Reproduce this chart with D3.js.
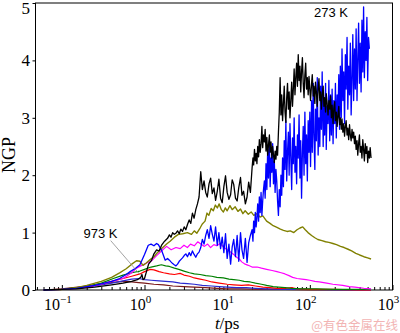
<!DOCTYPE html>
<html>
<head>
<meta charset="utf-8">
<script src="https://cdn.jsdelivr.net/npm/d3@7"></script>
<style>
html, body { margin: 0; padding: 0; background: #fff; }
svg { display: block; }
</style>
</head>
<body>
<svg id="chart" width="400" height="333"></svg>
<script>
// Non-Gaussian parameter NGP(t) for several temperatures, t in ps (log axis).

// Time grid (ps) for the two noisy series: coarse up to 20 ps, finer after
const tDense = [2.00, 2.09, 2.19, 2.29, 2.40, 2.51, 2.63, 2.75, 2.88, 3.02,
  3.16, 3.31, 3.47, 3.63, 3.80, 3.98, 4.17, 4.37, 4.57, 4.79,
  5.01, 5.25, 5.50, 5.75, 6.03, 6.31, 6.61, 6.92, 7.24, 7.59,
  7.94, 8.32, 8.71, 9.12, 9.55, 10.0, 10.5, 11.0, 11.5, 12.0,
  12.6, 13.2, 13.8, 14.5, 15.1, 15.8, 16.6, 17.4, 18.2, 19.1,
  20.0, 20.5, 20.9, 21.4, 21.9, 22.4, 22.9, 23.4, 24.0, 24.5,
  25.1, 25.7, 26.3, 26.9, 27.5, 28.2, 28.8, 29.5, 30.2, 30.9,
  31.6, 32.4, 33.1, 33.9, 34.7, 35.5, 36.3, 37.2, 38.0, 38.9,
  39.8, 40.7, 41.7, 42.7, 43.7, 44.7, 45.7, 46.8, 47.9, 49.0,
  50.1, 51.3, 52.5, 53.7, 55.0, 56.2, 57.5, 58.9, 60.3, 61.7,
  63.1, 64.6, 66.1, 67.6, 69.2, 70.8, 72.4, 74.1, 75.9, 77.6,
  79.4, 81.3, 83.2, 85.1, 87.1, 89.1, 91.2, 93.3, 95.5, 97.7,
  100, 102, 105, 107, 110, 112, 115, 117, 120, 123,
  126, 129, 132, 135, 138, 141, 145, 148, 151, 155,
  158, 162, 166, 170, 174, 178, 182, 186, 191, 195,
  200, 204, 209, 214, 219, 224, 229, 234, 240, 245,
  251, 257, 263, 269, 275, 282, 288, 295, 302, 309,
  316, 324, 331, 339, 347, 355, 363, 372, 380, 389,
  398, 407, 417, 427, 437, 447, 457, 468, 479, 490,
  501, 513, 525, 537, 550];

// 273 K (black): short-time part, then values on tDense
const ngp273Early = [[0.06, 0], [0.1, 0.01], [0.15, 0.02], [0.25, 0.05], [0.4, 0.09],
  [0.55, 0.12], [0.7, 0.15], [0.82, 0.18], [0.9, 0.22], [0.93, 0.27], [0.96, 0.18],
  [1.0, 0.2], [1.06, 0.33], [1.12, 0.45], [1.22, 0.52], [1.3, 0.63], [1.4, 0.7],
  [1.5, 0.68], [1.61, 0.78], [1.75, 0.85], [1.9, 0.9]];
const ngp273 = [0.96, 0.92, 1.00, 0.97, 0.99, 1.03, 0.98, 1.06, 1.02, 1.10,
  1.05, 1.14, 1.22, 1.16, 1.34, 1.25, 1.40, 1.50, 1.62, 2.06,
  1.75, 1.90, 1.70, 1.62, 1.85, 1.95, 1.68, 1.78, 1.56, 1.72,
  1.93, 1.60, 1.52, 1.80, 1.99, 1.70, 1.58, 1.66, 1.92, 1.84,
  1.60, 1.55, 1.78, 1.96, 1.65, 1.72, 1.50, 1.62, 1.88, 1.70,
  2.12, 2.30, 2.18, 2.45, 2.25, 2.38, 2.20,
  2.50, 2.32, 2.62, 2.40, 2.55, 2.85, 2.48, 2.70, 2.58, 2.80,
  2.42, 2.66, 2.35, 2.52, 2.70, 2.40, 2.58, 2.30, 2.50, 2.36,
  2.22, 2.42, 2.28, 2.50, 2.35, 2.75, 3.10, 3.70,
  3.05, 3.40, 2.95, 3.25, 3.55, 3.10, 2.92, 3.35, 3.60, 3.15,
  3.45, 3.00, 3.30, 3.62, 3.20,
  3.50, 3.85, 3.40, 3.70, 3.95, 3.55, 4.10, 3.65, 3.90, 3.45,
  3.80, 4.05, 3.60, 3.35, 3.75, 3.95, 3.50, 3.70,
  3.40, 3.72, 3.50, 3.30, 3.60, 3.75, 3.38, 3.55, 3.25, 3.62,
  3.45, 3.20, 3.50, 3.68, 3.30, 3.45, 3.15, 3.40, 3.55, 3.20,
  3.35, 3.10, 3.42, 3.25, 3.05, 3.30, 3.15, 3.38,
  3.00, 3.22, 2.90, 3.15, 3.28, 2.95, 3.10, 2.85, 3.05, 3.20,
  2.88, 3.00, 2.80,
  2.98, 2.75, 2.90, 2.68, 2.85, 2.95, 2.70, 2.82, 2.62, 2.88,
  2.70, 2.60, 2.80, 2.65, 2.75, 2.55,
  2.68, 2.45, 2.60, 2.35, 2.55, 2.70, 2.40, 2.50, 2.30, 2.62,
  2.45, 2.25, 2.55, 2.38, 2.50, 2.22, 2.42, 2.30, 2.48, 2.30];

// Second strongly growing series (blue)
const ngpBlueEarly = [[0.06, 0], [0.1, 0.01], [0.15, 0.03], [0.25, 0.08], [0.4, 0.15],
  [0.5, 0.2], [0.6, 0.27], [0.67, 0.32], [0.78, 0.38], [0.88, 0.44], [1.0, 0.62],
  [1.11, 0.78], [1.2, 0.8], [1.3, 0.77], [1.4, 0.81], [1.47, 0.79], [1.6, 0.7],
  [1.78, 0.52], [1.9, 0.55]];
const ngpBlue = [0.52, 0.49, 0.46, 0.44, 0.42, 0.45, 0.50, 0.53, 0.56, 0.60,
  0.63, 0.58, 0.65, 0.60, 0.68, 0.62, 0.57, 0.63, 0.66, 0.74,
  0.88, 0.80, 0.95, 1.05, 0.90, 1.12, 0.97, 0.85, 1.10, 0.78,
  1.00, 0.72, 0.92, 0.65, 0.98, 0.55, 0.80, 0.45, 0.75, 0.88,
  0.58, 0.95, 0.50, 1.00, 0.70, 0.55, 0.90, 0.48, 0.82, 0.95,
  1.05, 0.85, 1.20, 1.00, 1.35, 1.10, 1.25,
  1.50, 1.20, 1.62, 1.35, 1.70, 1.30, 1.55, 1.75,
  1.90, 1.60, 2.20, 1.75, 2.45, 1.95, 2.60, 1.80, 2.30, 2.05,
  2.55, 1.85, 2.25, 1.70, 2.10, 1.90,
  1.55, 1.30, 1.75, 1.45, 2.00, 1.65, 2.30,
  1.80, 2.60, 2.10, 2.95, 1.90, 2.40, 2.75, 2.00, 2.90, 2.30,
  1.75, 2.65, 2.20, 3.00, 2.05, 2.50, 1.85, 2.70,
  2.30, 3.05, 1.95, 2.60, 1.60, 2.40, 2.85, 2.00, 3.10, 2.20,
  2.70, 1.90, 2.95, 2.40, 3.10, 2.15,
  3.30, 2.40, 3.60, 2.70, 2.10, 3.15, 2.60, 3.70, 2.35, 3.00, 2.50,
  3.55, 2.80, 3.80, 2.50, 3.30, 2.70, 3.60, 2.45, 3.20, 2.90, 3.65, 2.60, 3.40,
  2.70, 3.50, 2.55, 3.30, 2.90, 3.60, 2.65, 3.40, 3.00, 3.75, 2.80,
  3.90, 3.00, 4.20, 3.30, 3.80, 2.90, 4.10, 3.50, 4.40, 3.15,
  3.90, 3.40, 4.30, 3.05, 3.70, 4.45, 3.30,
  4.20, 3.50, 4.55, 3.30, 4.00, 4.65, 3.60, 4.30, 3.45, 4.70, 3.80,
  4.93, 3.70, 4.50, 4.00, 4.75, 3.65, 4.40,
  4.20, null, null];

const ngpOlive = [[0.06, 0], [0.1, 0.01], [0.15, 0.04], [0.2, 0.08], [0.3, 0.15],
  [0.4, 0.22], [0.5, 0.3], [0.6, 0.37], [0.7, 0.45], [0.8, 0.51], [0.88, 0.5],
  [0.96, 0.43], [1.05, 0.47], [1.17, 0.53], [1.3, 0.58], [1.41, 0.64], [1.55, 0.7],
  [1.69, 0.75], [1.85, 0.8], [2.04, 0.85], [2.3, 0.92], [2.57, 0.97], [2.9, 0.98],
  [3.3, 1.0], [3.7, 0.97], [4.0, 1.03], [4.3, 0.99], [4.7, 1.08], [5.0, 1.15],
  [5.4, 1.2], [5.7, 1.34], [6.0, 1.3], [6.4, 1.42], [6.8, 1.38], [7.2, 1.48],
  [7.6, 1.43], [8.0, 1.5], [8.5, 1.4], [9.0, 1.36], [9.5, 1.43], [10, 1.38],
  [10.8, 1.47], [11.5, 1.4], [12.5, 1.45], [13.5, 1.37], [14.5, 1.41], [15.5, 1.33],
  [16.5, 1.38], [18, 1.32], [19.5, 1.36], [21, 1.3], [23, 1.33], [25, 1.27],
  [27, 1.29], [30, 1.2], [33, 1.16], [36, 1.12], [40, 1.09], [44, 1.06], [48, 1.04],
  [53, 1.02], [58, 1.03], [64, 1.0], [70, 1.05], [76, 1.08], [82, 1.1], [88, 1.05],
  [95, 1.0], [105, 0.95], [115, 0.91], [125, 0.88], [140, 0.86], [155, 0.84],
  [170, 0.83], [190, 0.81], [210, 0.79], [235, 0.76], [260, 0.74], [290, 0.71],
  [320, 0.68], [360, 0.64], [400, 0.61], [450, 0.58], [500, 0.56], [550, 0.54]];

const ngpMagenta = [[0.06, 0], [0.1, 0.01], [0.15, 0.03], [0.2, 0.05], [0.3, 0.1],
  [0.4, 0.15], [0.55, 0.2], [0.7, 0.3], [0.8, 0.38], [0.9, 0.42], [1.06, 0.47],
  [1.2, 0.5], [1.4, 0.6], [1.6, 0.68], [1.85, 0.76], [2.1, 0.7], [2.4, 0.74],
  [2.7, 0.72], [3.0, 0.78], [3.3, 0.74], [3.6, 0.8], [4.0, 0.77], [4.4, 0.84],
  [4.8, 0.8], [5.3, 0.76], [5.8, 0.8], [6.3, 0.74], [6.9, 0.79], [7.5, 0.77],
  [8.2, 0.81], [9, 0.75], [10, 0.7], [11, 0.66], [12, 0.62], [13, 0.57], [14, 0.54],
  [15, 0.49], [16.5, 0.45], [18, 0.43], [20, 0.4], [23, 0.4], [26, 0.38], [30, 0.36],
  [35, 0.34], [40, 0.32], [45, 0.3], [50, 0.28], [56, 0.25], [62, 0.22], [70, 0.2],
  [80, 0.19], [90, 0.18], [100, 0.17], [115, 0.15], [130, 0.14], [160, 0.12],
  [190, 0.1], [250, 0.08], [300, 0.06], [350, 0.05], [450, 0.03], [550, 0.02]];

const ngpGreen = [[0.06, 0], [0.1, 0.01], [0.2, 0.06], [0.3, 0.12], [0.42, 0.2],
  [0.55, 0.26], [0.7, 0.3], [0.88, 0.33], [1.0, 0.36], [1.2, 0.4], [1.4, 0.42],
  [1.6, 0.44], [1.8, 0.42], [2.0, 0.41], [2.3, 0.38], [2.6, 0.36], [3.0, 0.33],
  [3.5, 0.3], [4.0, 0.28], [4.7, 0.27], [5.5, 0.25], [6.5, 0.24], [7.5, 0.22],
  [9, 0.21], [10.5, 0.19], [12, 0.18], [14, 0.17], [16, 0.15], [19, 0.14], [22, 0.12],
  [26, 0.1], [30, 0.08], [36, 0.06], [42, 0.05], [50, 0.04], [60, 0.03], [80, 0.02],
  [120, 0.02], [200, 0.01], [350, 0.01], [550, 0.01]];

const ngpRed = [[0.06, 0], [0.1, 0.01], [0.2, 0.05], [0.29, 0.1], [0.4, 0.15],
  [0.55, 0.2], [0.7, 0.24], [0.88, 0.28], [1.0, 0.32], [1.17, 0.36], [1.3, 0.35],
  [1.5, 0.32], [1.7, 0.3], [2.0, 0.28], [2.3, 0.27], [2.7, 0.29], [3.0, 0.26],
  [3.5, 0.24], [4.0, 0.21], [4.7, 0.19], [5.5, 0.17], [6.5, 0.14], [8, 0.12],
  [10, 0.1], [12, 0.09], [15, 0.08], [18, 0.09], [22, 0.07], [27, 0.05], [33, 0.04],
  [40, 0.03], [50, 0.03], [60, 0.04], [70, 0.02], [100, 0.01], [200, 0.01],
  [400, 0], [550, 0]];

const ngpNavy = [[0.06, 0], [0.1, 0.01], [0.2, 0.05], [0.3, 0.09], [0.4, 0.12],
  [0.55, 0.16], [0.7, 0.19], [0.85, 0.2], [1.0, 0.18], [1.2, 0.17], [1.5, 0.16],
  [1.8, 0.15], [2.2, 0.14], [2.7, 0.12], [3.3, 0.11], [4, 0.1], [5, 0.08],
  [6.5, 0.07], [8, 0.06], [10, 0.05], [13, 0.04], [17, 0.04], [22, 0.03], [30, 0.02],
  [50, 0.01], [100, 0.01], [300, 0], [550, 0]];

// 973 K (dark red)
const ngp973 = [[0.06, 0], [0.1, 0.02], [0.2, 0.07], [0.3, 0.11], [0.4, 0.13],
  [0.55, 0.15], [0.7, 0.14], [0.85, 0.13], [1.0, 0.12], [1.3, 0.1], [1.7, 0.09],
  [2.2, 0.07], [3, 0.06], [4, 0.05], [5.5, 0.04], [7.5, 0.03], [10, 0.02], [15, 0.02],
  [25, 0.01], [50, 0.01], [100, 0], [550, 0]];

const yTicks = [0, 1, 2, 3, 4, 5];
const xMajor = [0.1, 1, 10, 100, 1000];
const xMajorExp = ["\u22121", "0", "1", "2", "3"];

// Label anchors in data space
const label273 = {t: 180, v: 4.76, text: "273 K"};
const label973 = {t: 0.293, v: 0.9, text: "973 K"};
const leader973 = [[0.39, 0.86], [0.88, 0.27]];

const svg = d3.select("#chart");
const x = d3.scaleLog().domain([0.048, 1000]).range([35.5, 392.5]);
const y = d3.scaleLinear().domain([0, 5]).range([290, 3]);

const serif = "Liberation Serif, Times New Roman, serif";
const sans = "Liberation Sans, Arial, sans-serif";

// x axis ticks (inward), minor and major
const minorTicks = x.ticks().filter(v => !xMajor.some(m => Math.abs(m - v) / m < 1e-6));
svg.append("g").attr("transform", "translate(0,290)")
  .call(d3.axisBottom(x).tickValues(minorTicks).tickSize(-3).tickFormat(""))
  .call(g => g.select(".domain").remove())
  .selectAll("line").attr("stroke", "#000");
svg.append("g").attr("transform", "translate(0,290)")
  .call(d3.axisBottom(x).tickValues(xMajor).tickSize(-5).tickFormat(""))
  .call(g => g.select(".domain").remove())
  .selectAll("line").attr("stroke", "#000");

// x tick labels as 10^n
const xl = svg.append("g").style("font-family", serif).attr("font-size", 16).attr("fill", "#000");
xMajor.forEach((v, i) => {
  const t = xl.append("text").attr("x", x(v) - 4).attr("y", 310).attr("text-anchor", "middle");
  t.append("tspan").text("10");
  t.append("tspan").attr("dy", -7).attr("font-size", 11).text(xMajorExp[i]);
});

// y axis
svg.append("g").attr("transform", "translate(35.5,0)")
  .call(d3.axisLeft(y).tickValues(yTicks).tickSize(3).tickPadding(2.5).tickFormat(d3.format("d")))
  .call(g => g.select(".domain").remove())
  .call(g => g.selectAll("line").attr("stroke", "#000"))
  .call(g => g.selectAll("text").style("font-family", serif).attr("font-size", 17).attr("fill", "#000")
    .attr("dy", d => d === 5 ? "0.62em" : "0.32em"));

// plot frame
svg.append("rect").attr("x", x.range()[0]).attr("y", y.range()[1])
  .attr("width", x.range()[1] - x.range()[0]).attr("height", y.range()[0] - y.range()[1])
  .attr("fill", "none").attr("stroke", "#000").attr("stroke-width", 1);

// curves
const line = d3.line().defined(d => d[1] != null).x(d => x(d[0])).y(d => y(d[1]));
const zip = vals => tDense.map((t, i) => [t, vals[i]]);

const series = [
  {data: ngp973, color: "#7a1a1a", w: 1.2},
  {data: ngpNavy, color: "#2a2ad0", w: 1.2},
  {data: ngpRed, color: "#ff0000", w: 1.2},
  {data: ngpGreen, color: "#008000", w: 1.2},
  {data: ngpMagenta, color: "#ff00ff", w: 1.2},
  {data: ngpOlive, color: "#808000", w: 1.4},
  {data: ngpBlueEarly.concat(zip(ngpBlue)), color: "#0000ff", w: 1.3},
  {data: ngp273Early.concat(zip(ngp273)), color: "#000000", w: 1.3}
];
svg.append("g").selectAll("path").data(series).join("path")
  .attr("d", s => line(s.data))
  .attr("fill", "none")
  .attr("stroke", s => s.color)
  .attr("stroke-width", s => s.w)
  .attr("stroke-linejoin", "round");

// annotations
svg.append("path").attr("d", line(leader973))
  .attr("stroke", "#8c8c8c").attr("stroke-width", 0.8).attr("fill", "none");
svg.append("text").attr("x", x(label973.t)).attr("y", y(label973.v))
  .attr("text-anchor", "middle").style("font-family", sans).attr("font-size", 13)
  .text(label973.text);
svg.append("text").attr("x", x(label273.t)).attr("y", y(label273.v))
  .attr("text-anchor", "middle").style("font-family", sans).attr("font-size", 13)
  .text(label273.text);

// axis titles
svg.append("text").attr("transform", "translate(15,155) rotate(-90)")
  .attr("text-anchor", "middle").style("font-family", serif).attr("font-size", 18)
  .text("NGP");
const xt = svg.append("text").attr("x", x(10)).attr("y", 329)
  .attr("text-anchor", "middle").style("font-family", serif).attr("font-size", 17);
xt.append("tspan").attr("font-style", "italic").text("t");
xt.append("tspan").text("/ps");

// source mark
svg.append("text").attr("x", 398).attr("y", 330).attr("text-anchor", "end")
  .style("font-family", "Noto Sans CJK SC, sans-serif").attr("font-size", 12.5)
  .attr("fill", "#f2b4b4").text("@有色金属在线");
</script>
</body>
</html>
